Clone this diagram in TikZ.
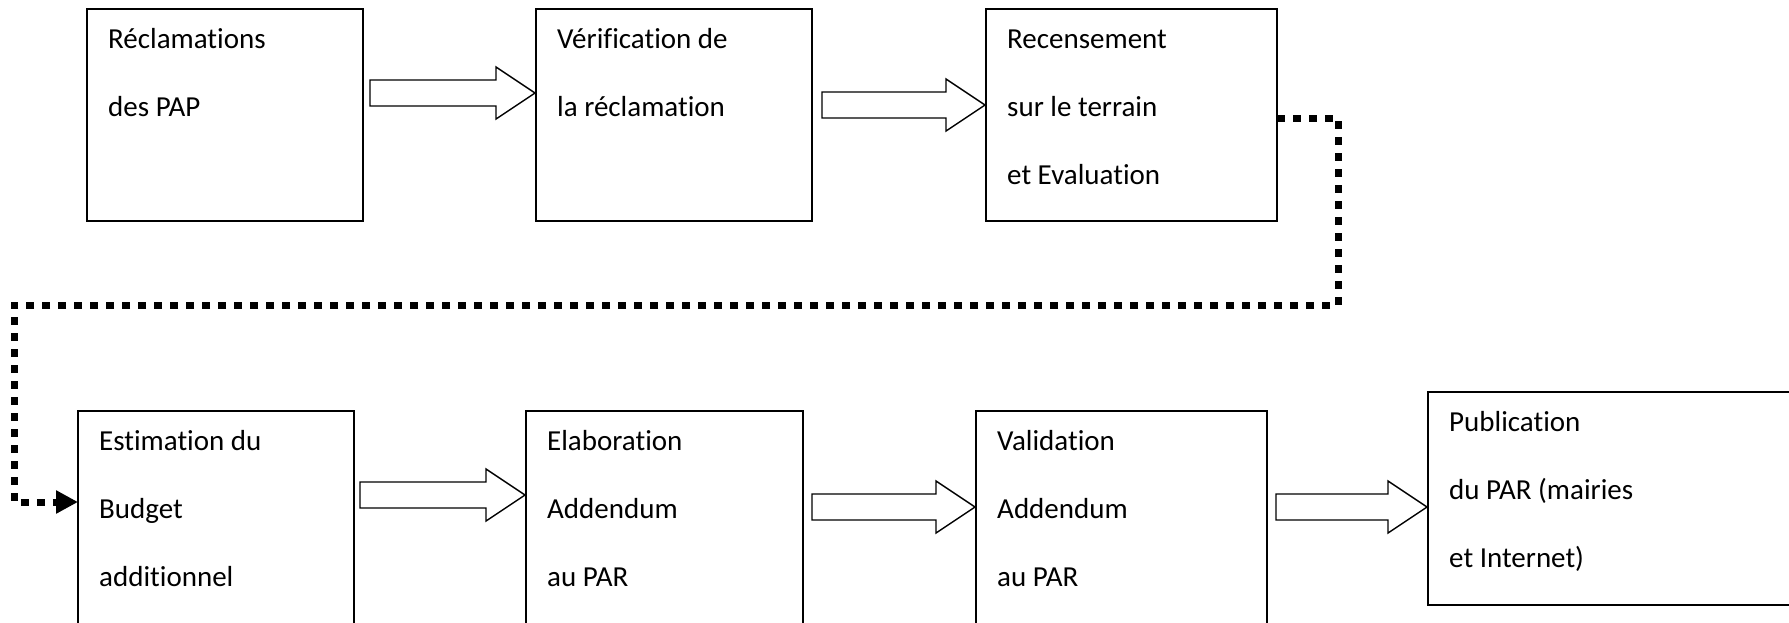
\documentclass[tikz,border=0pt]{standalone}
\usepackage{fontspec}
\setmainfont{Carlito}[Ligatures={NoCommon,NoContextual}]
\usetikzlibrary{calc,arrows.meta}

\tikzset{
  stagebox/.style={draw, line width=1.7pt, inner sep=0pt, outer sep=0pt, anchor=north west, fill=white},
  lbl/.style={inner sep=0pt, anchor=base west, font=\fontsize{29pt}{35pt}\selectfont},
  blockarrow/.style={draw, line width=1.4pt, fill=white, line join=miter},
  dotconn/.style={line width=7pt, dash pattern=on 8pt off 8pt, line join=miter,
    -{Triangle[length=22pt,width=22pt]}}
}

% hollow block arrow: tail point #1, tip point #2 (same height)
\newcommand{\blockarrow}[2]{%
  \draw[blockarrow] let \p1=#1, \p2=#2 in
    (\x1,\y1+13) -- (\x2-39,\y1+13) -- (\x2-39,\y1+26) -- (\x2,\y1)
    -- (\x2-39,\y1-26) -- (\x2-39,\y1-13) -- (\x1,\y1-13) -- cycle;}

% text lines of a stage box, baselines 68 apart
\newcommand{\stagetext}[2]{%
  \foreach \ln [count=\i from 0] in {#2}
    \node[lbl] (#1-\i) at ($(#1.north west)+(21,39+68*\i)$) {\ln};}

\begin{document}
\begin{tikzpicture}[x=1pt,y=-1pt]
  \useasboundingbox (0,0) rectangle (1789,622);
  \fill[white] (0,0) rectangle (1789,622);
  \clip (0,0) rectangle (1789,622);

  % first row
  \node[stagebox, minimum width=276pt, minimum height=212pt] (box1) at (87,9) {};
  \node[stagebox, minimum width=276pt, minimum height=212pt] (box2) at (536,9) {};
  \node[stagebox, minimum width=291pt, minimum height=212pt] (box3) at (986,9) {};

  % second row
  \node[stagebox, minimum width=276pt, minimum height=240pt] (box4) at (78,411) {};
  \node[stagebox, minimum width=277pt, minimum height=240pt] (box5) at (526,411) {};
  \node[stagebox, minimum width=291pt, minimum height=240pt] (box6) at (976,411) {};
  \node[stagebox, minimum width=400pt, minimum height=213pt] (box7) at (1428,392) {};

  \stagetext{box1}{{Réclamations},{des PAP}}
  \stagetext{box2}{{Vérification de},{la réclamation}}
  \stagetext{box3}{{Recensement},{sur le terrain},{et Evaluation}}
  \stagetext{box4}{{Estimation du},{Budget},{additionnel}}
  \stagetext{box5}{{Elaboration},{Addendum},{au PAR}}
  \stagetext{box6}{{Validation},{Addendum},{au PAR}}
  \stagetext{box7}{{Publication},{du PAR (mairies},{et Internet)}}

  % block arrows between stages
  \blockarrow{($(box1.north east)+(7,84)$)}{($(box2.north west)+(-1,84)$)}
  \blockarrow{($(box2.north east)+(10,96)$)}{($(box3.north west)+(-1,96)$)}
  \blockarrow{($(box4.north east)+(6,84)$)}{($(box5.north west)+(-1,84)$)}
  \blockarrow{($(box5.north east)+(9,96)$)}{($(box6.north west)+(-1,96)$)}
  \blockarrow{($(box6.north east)+(9,96)$)}{($(box7.north west)+(-1,115)$)}

  % dotted return link from the first row to the second row
  \coordinate (b3out) at ($(box3.north east)+(0,109)$);
  \coordinate (d1) at (1338,305);
  \coordinate (d2) at (14,305);
  \coordinate (b4in) at ($(box4.north west)+(0,91)$);
  \draw[dotconn] (b3out) -| (d1) -- (d2) |- (b4in);
\end{tikzpicture}
\end{document}
